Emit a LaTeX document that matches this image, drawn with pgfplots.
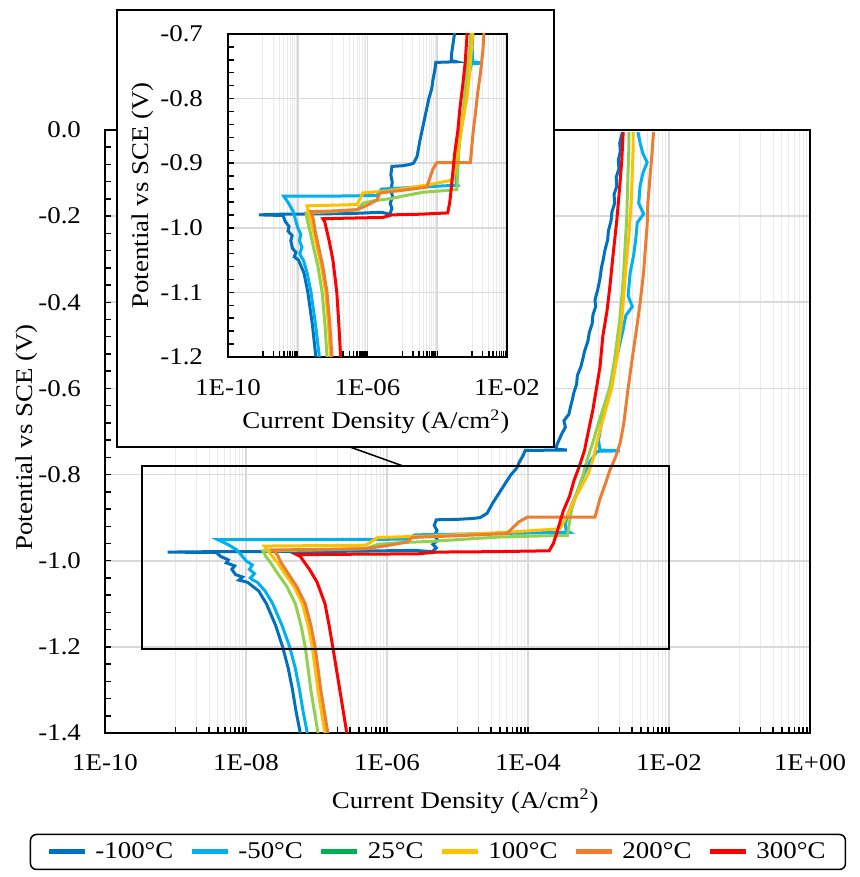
\documentclass[border=0pt]{standalone}
\usepackage{fontspec}
\setmainfont{Liberation Serif}[FakeStretch=1.12]
\usepackage{pgfplots}
\usepackage{pgfplotstable}
\pgfplotsset{compat=1.18}
\definecolor{Cm100}{HTML}{0070C0}
\definecolor{Cm50}{HTML}{00B0F0}
\definecolor{Cp25}{HTML}{00B050}
\definecolor{Cp25line}{HTML}{92D050}
\definecolor{Cp100}{HTML}{FFC000}
\definecolor{Cp200}{HTML}{ED7D31}
\definecolor{Cp300}{HTML}{FF0000}
\definecolor{MajGrid}{HTML}{D9D9D9}
\definecolor{MinGrid}{HTML}{EAEAEA}

% current density (A/cm2), potential vs SCE (V)
\pgfplotstableread{
i E
5.89e-8 -1.40
5.13e-8 -1.35
4.57e-8 -1.30
3.98e-8 -1.25
3.31e-8 -1.20
2.63e-8 -1.15
1.95e-8 -1.10
1.51e-8 -1.07
1.05e-8 -1.05
7.94e-9 -1.045
8.91e-9 -1.038
7.08e-9 -1.032
6.31e-9 -1.02
6.92e-9 -1.012
5.25e-9 -1.005
5.62e-9 -0.998
4.37e-9 -0.99
3.80e-9 -0.981
7.76e-10 -0.980
3.16e-9 -0.979
3.16e-7 -0.978
2.51e-6 -0.976
4.37e-6 -0.979
5.01e-6 -0.970
4.47e-6 -0.962
5.25e-6 -0.952
4.68e-6 -0.942
5.13e-6 -0.930
4.68e-6 -0.918
5.01e-6 -0.905
1.00e-5 -0.904
1.62e-5 -0.902
2.09e-5 -0.900
2.63e-5 -0.890
3.16e-5 -0.866
3.72e-5 -0.848
4.37e-5 -0.830
5.01e-5 -0.815
5.75e-5 -0.800
6.92e-5 -0.785
7.59e-5 -0.770
8.51e-5 -0.756
9.12e-5 -0.744
3.55e-4 -0.743
2.51e-4 -0.741
2.57e-4 -0.731
3.02e-4 -0.705
3.39e-4 -0.690
3.24e-4 -0.675
3.80e-4 -0.660
3.98e-4 -0.645
4.27e-4 -0.625
4.47e-4 -0.610
4.90e-4 -0.590
5.01e-4 -0.570
5.62e-4 -0.550
6.03e-4 -0.530
6.31e-4 -0.515
7.08e-4 -0.490
7.41e-4 -0.470
8.13e-4 -0.450
8.32e-4 -0.430
9.12e-4 -0.410
8.91e-4 -0.395
9.77e-4 -0.370
1.05e-3 -0.345
1.10e-3 -0.320
1.17e-3 -0.300
1.23e-3 -0.280
1.35e-3 -0.255
1.38e-3 -0.235
1.51e-3 -0.210
1.55e-3 -0.190
1.70e-3 -0.170
1.66e-3 -0.150
1.82e-3 -0.130
1.78e-3 -0.110
1.95e-3 -0.090
1.91e-3 -0.070
2.04e-3 -0.050
2.00e-3 -0.030
2.19e-3 -0.005
}\tabMhundred

\pgfplotstableread{
i E
7.41e-8 -1.40
6.46e-8 -1.35
5.75e-8 -1.30
5.01e-8 -1.25
4.17e-8 -1.20
3.24e-8 -1.15
2.40e-8 -1.10
1.86e-8 -1.07
1.45e-8 -1.05
1.26e-8 -1.045
1.15e-8 -1.040
1.32e-8 -1.030
1.12e-8 -1.020
1.23e-8 -1.010
1.00e-8 -1.000
8.91e-9 -0.990
7.41e-9 -0.975
5.62e-9 -0.963
3.98e-9 -0.951
1.00e-7 -0.951
1.86e-6 -0.950
2.51e-6 -0.940
3.16e-5 -0.937
3.89e-4 -0.934
3.47e-4 -0.930
3.39e-4 -0.915
3.63e-4 -0.895
4.17e-4 -0.870
5.01e-4 -0.840
6.17e-4 -0.800
7.59e-4 -0.770
9.55e-4 -0.746
2.00e-3 -0.745
1.05e-3 -0.743
1.00e-3 -0.720
1.17e-3 -0.660
1.45e-3 -0.600
1.74e-3 -0.540
2.19e-3 -0.470
2.45e-3 -0.430
3.02e-3 -0.410
2.63e-3 -0.385
2.82e-3 -0.330
3.16e-3 -0.290
3.39e-3 -0.250
3.55e-3 -0.215
4.37e-3 -0.195
3.72e-3 -0.170
3.89e-3 -0.130
4.27e-3 -0.100
4.90e-3 -0.075
4.27e-3 -0.055
3.89e-3 -0.030
3.63e-3 -0.005
}\tabMfifty

\pgfplotstableread{
i E
1.05e-7 -1.40
9.33e-8 -1.35
8.32e-8 -1.30
7.59e-8 -1.25
6.92e-8 -1.20
6.03e-8 -1.15
5.01e-8 -1.10
3.80e-8 -1.06
2.82e-8 -1.03
2.24e-8 -1.005
1.91e-8 -0.99
1.74e-8 -0.977
1.00e-7 -0.975
5.01e-7 -0.972
7.41e-7 -0.962
1.58e-6 -0.958
4.37e-6 -0.955
1.26e-5 -0.950
3.89e-5 -0.945
3.63e-4 -0.941
3.80e-4 -0.920
4.17e-4 -0.880
5.01e-4 -0.840
6.03e-4 -0.800
7.08e-4 -0.760
8.51e-4 -0.720
1.00e-3 -0.680
1.20e-3 -0.640
1.45e-3 -0.597
1.70e-3 -0.530
2.00e-3 -0.441
2.19e-3 -0.370
2.29e-3 -0.325
2.40e-3 -0.260
2.51e-3 -0.209
2.57e-3 -0.150
2.63e-3 -0.093
2.69e-3 -0.050
2.69e-3 -0.005
}\tabPtwentyfive

\pgfplotstableread{
i E
1.32e-7 -1.40
1.17e-7 -1.35
1.05e-7 -1.30
9.55e-8 -1.25
8.71e-8 -1.20
7.59e-8 -1.15
6.31e-8 -1.10
4.79e-8 -1.06
3.55e-8 -1.03
2.82e-8 -1.005
2.24e-8 -0.985
1.82e-8 -0.966
1.00e-7 -0.965
5.01e-7 -0.964
7.41e-7 -0.946
3.63e-6 -0.943
1.58e-5 -0.938
6.31e-5 -0.933
2.82e-4 -0.926
3.63e-4 -0.895
4.47e-4 -0.860
5.62e-4 -0.830
7.08e-4 -0.800
8.51e-4 -0.760
1.00e-3 -0.710
1.26e-3 -0.650
1.55e-3 -0.597
1.86e-3 -0.520
2.14e-3 -0.441
2.34e-3 -0.360
2.51e-3 -0.300
2.69e-3 -0.250
2.82e-3 -0.200
2.95e-3 -0.150
3.02e-3 -0.093
3.09e-3 -0.050
3.09e-3 -0.005
}\tabPhundred

\pgfplotstableread{
i E
1.45e-7 -1.40
1.29e-7 -1.35
1.15e-7 -1.30
1.05e-7 -1.25
9.55e-8 -1.20
8.32e-8 -1.15
6.92e-8 -1.10
5.25e-8 -1.06
3.98e-8 -1.03
3.16e-8 -1.005
2.75e-8 -0.985
2.40e-8 -0.975
1.00e-7 -0.974
5.01e-7 -0.972
1.00e-6 -0.965
1.86e-6 -0.957
2.29e-6 -0.946
1.00e-5 -0.942
5.01e-5 -0.937
7.41e-5 -0.910
9.77e-5 -0.899
8.91e-4 -0.899
1.05e-3 -0.856
1.26e-3 -0.820
1.45e-3 -0.790
1.74e-3 -0.760
2.04e-3 -0.725
2.29e-3 -0.680
2.63e-3 -0.600
3.09e-3 -0.518
3.55e-3 -0.450
3.89e-3 -0.402
4.37e-3 -0.330
4.57e-3 -0.286
4.90e-3 -0.220
5.01e-3 -0.170
5.37e-3 -0.110
5.75e-3 -0.053
6.03e-3 -0.005
}\tabPtwohundred

\pgfplotstableread{
i E
2.69e-7 -1.40
2.40e-7 -1.35
2.14e-7 -1.30
1.91e-7 -1.25
1.70e-7 -1.20
1.51e-7 -1.15
1.32e-7 -1.10
1.02e-7 -1.05
7.94e-8 -1.02
5.89e-8 -0.990
5.25e-8 -0.986
3.16e-7 -0.985
2.75e-6 -0.984
5.01e-6 -0.980
3.16e-5 -0.979
2.00e-4 -0.977
2.29e-4 -0.960
2.51e-4 -0.940
3.16e-4 -0.885
3.89e-4 -0.850
4.47e-4 -0.815
5.37e-4 -0.780
6.31e-4 -0.745
7.08e-4 -0.705
8.32e-4 -0.650
1.05e-3 -0.550
1.15e-3 -0.480
1.32e-3 -0.420
1.45e-3 -0.364
1.62e-3 -0.286
1.82e-3 -0.209
2.00e-3 -0.132
2.14e-3 -0.070
2.24e-3 -0.005
}\tabPthreehundred

\begin{document}
\begin{tikzpicture}[font=\fontsize{12}{14}\selectfont]
\useasboundingbox (0,0) rectangle (429.5pt,438.5pt);

\begin{semilogxaxis}[
  scale only axis, anchor=south west,
  at={(52.5pt,72pt)}, width=352.5pt, height=301.5pt,
  xmin=1e-10, xmax=1, ymin=-1.4, ymax=0,
  tick pos=left, tick align=inside,
  major tick length=3pt, minor tick length=3pt,
  tick style={black, line width=0.75pt},
  axis line style={line width=1pt},
  xmajorgrids, xminorgrids, ymajorgrids,
  major grid style={MajGrid, line width=0.8pt},
  minor grid style={MinGrid, line width=0.5pt},
  minor y tick num=4,
  xticklabel style={yshift=-7pt},
  yticklabel style={xshift=-8.5pt},
  xtick={1e-10,1e-8,1e-6,1e-4,1e-2,1},
  xticklabels={1E-10,1E-08,1E-06,1E-04,1E-02,1E+00},
  minor xtick={1e-9,2e-9,3e-9,4e-9,5e-9,6e-9,7e-9,8e-9,9e-9,
    1e-7,2e-7,3e-7,4e-7,5e-7,6e-7,7e-7,8e-7,9e-7,
    1e-5,2e-5,3e-5,4e-5,5e-5,6e-5,7e-5,8e-5,9e-5,
    1e-3,2e-3,3e-3,4e-3,5e-3,6e-3,7e-3,8e-3,9e-3,
    0.1,0.2,0.3,0.4,0.5,0.6,0.7,0.8,0.9},
  ytick={-1.4,-1.2,-1,-0.8,-0.6,-0.4,-0.2,0},
  yticklabels={-1.4,-1.2,-1.0,-0.8,-0.6,-0.4,-0.2,0.0},
  xlabel={Current Density (A/cm\textsuperscript{2})},
  ylabel={Potential vs SCE (V)},
  xlabel style={at={(axis description cs:0.511,-0.113)}, anchor=center},
  ylabel style={at={(axis description cs:-0.111,0.49)}, anchor=center},
  legend columns=6,
  legend image code/.code={\draw[#1, line width=2.5pt] (0pt,0pt) -- (18pt,0pt);},
  legend style={at={(0.4723,-0.1973)}, anchor=center, draw=black,
    line width=0.75pt, rounded corners=3pt, inner xsep=8pt, inner ysep=2pt,
    /tikz/every odd column/.append style={column sep=2pt},
    /tikz/every even column/.append style={column sep=6pt}},
]
\addlegendimage{Cm100}\addlegendentry{-100°C}
\addlegendimage{Cm50}\addlegendentry{-50°C}
\addlegendimage{Cp25}\addlegendentry{25°C}
\addlegendimage{Cp100}\addlegendentry{100°C}
\addlegendimage{Cp200}\addlegendentry{200°C}
\addlegendimage{Cp300}\addlegendentry{300°C}
\addplot[Cm100, line width=1.5pt, forget plot] table[x=i, y=E] {\tabMhundred};
\addplot[Cm50, line width=1.5pt, forget plot] table[x=i, y=E] {\tabMfifty};
\addplot[Cp25line, line width=1.5pt, forget plot] table[x=i, y=E] {\tabPtwentyfive};
\addplot[Cp100, line width=1.5pt, forget plot] table[x=i, y=E] {\tabPhundred};
\addplot[Cp200, line width=1.5pt, forget plot] table[x=i, y=E] {\tabPtwohundred};
\addplot[Cp300, line width=1.5pt, forget plot] table[x=i, y=E] {\tabPthreehundred};
\draw[line width=0.75pt] (axis cs:3.35e-10,-1.205) rectangle (axis cs:1e-2,-0.78);
\end{semilogxaxis}

\draw[fill=white, line width=0.75pt] (58.5pt,215pt) rectangle (277pt,433.5pt);
\draw[line width=0.75pt] (175pt,215pt) -- (201.5pt,205.5pt);

\begin{semilogxaxis}[
  scale only axis, anchor=south west,
  at={(114pt,260pt)}, width=139.5pt, height=161.5pt,
  xmin=1e-10, xmax=1e-2, ymin=-1.2, ymax=-0.7,
  tick pos=left, tick align=inside,
  major tick length=3pt, minor tick length=3pt,
  tick style={black, line width=0.75pt},
  axis line style={line width=1pt},
  xmajorgrids, xminorgrids, ymajorgrids,
  major grid style={MajGrid, line width=0.8pt},
  minor grid style={MinGrid, line width=0.5pt},
  minor y tick num=4,
  xtick={1e-10,1e-8,1e-6,1e-4,1e-2},
  xticklabels={1E-10,,1E-06,,1E-02},
  minor xtick={1e-9,2e-9,3e-9,4e-9,5e-9,6e-9,7e-9,8e-9,9e-9,
    1e-7,2e-7,3e-7,4e-7,5e-7,6e-7,7e-7,8e-7,9e-7,
    1e-5,2e-5,3e-5,4e-5,5e-5,6e-5,7e-5,8e-5,9e-5,
    1e-3,2e-3,3e-3,4e-3,5e-3,6e-3,7e-3,8e-3,9e-3},
  ytick={-1.2,-1.1,-1,-0.9,-0.8,-0.7},
  yticklabels={-1.2,-1.1,-1.0,-0.9,-0.8,-0.7},
  yticklabel style={xshift=-9pt},
  xticklabel style={yshift=-7.5pt},
  xlabel={Current Density (A/cm\textsuperscript{2})},
  ylabel={Potential vs SCE (V)},
  xlabel style={at={(axis description cs:0.53,-0.201)}, anchor=center},
  ylabel style={at={(axis description cs:-0.305,0.50)}, anchor=center},
]
\addplot[Cm100, line width=1.5pt] table[x=i, y=E] {\tabMhundred};
\addplot[Cm50, line width=1.5pt] table[x=i, y=E] {\tabMfifty};
\addplot[Cp25line, line width=1.5pt] table[x=i, y=E] {\tabPtwentyfive};
\addplot[Cp100, line width=1.5pt] table[x=i, y=E] {\tabPhundred};
\addplot[Cp200, line width=1.5pt] table[x=i, y=E] {\tabPtwohundred};
\addplot[Cp300, line width=1.5pt] table[x=i, y=E] {\tabPthreehundred};
\end{semilogxaxis}
\end{tikzpicture}
\end{document}
